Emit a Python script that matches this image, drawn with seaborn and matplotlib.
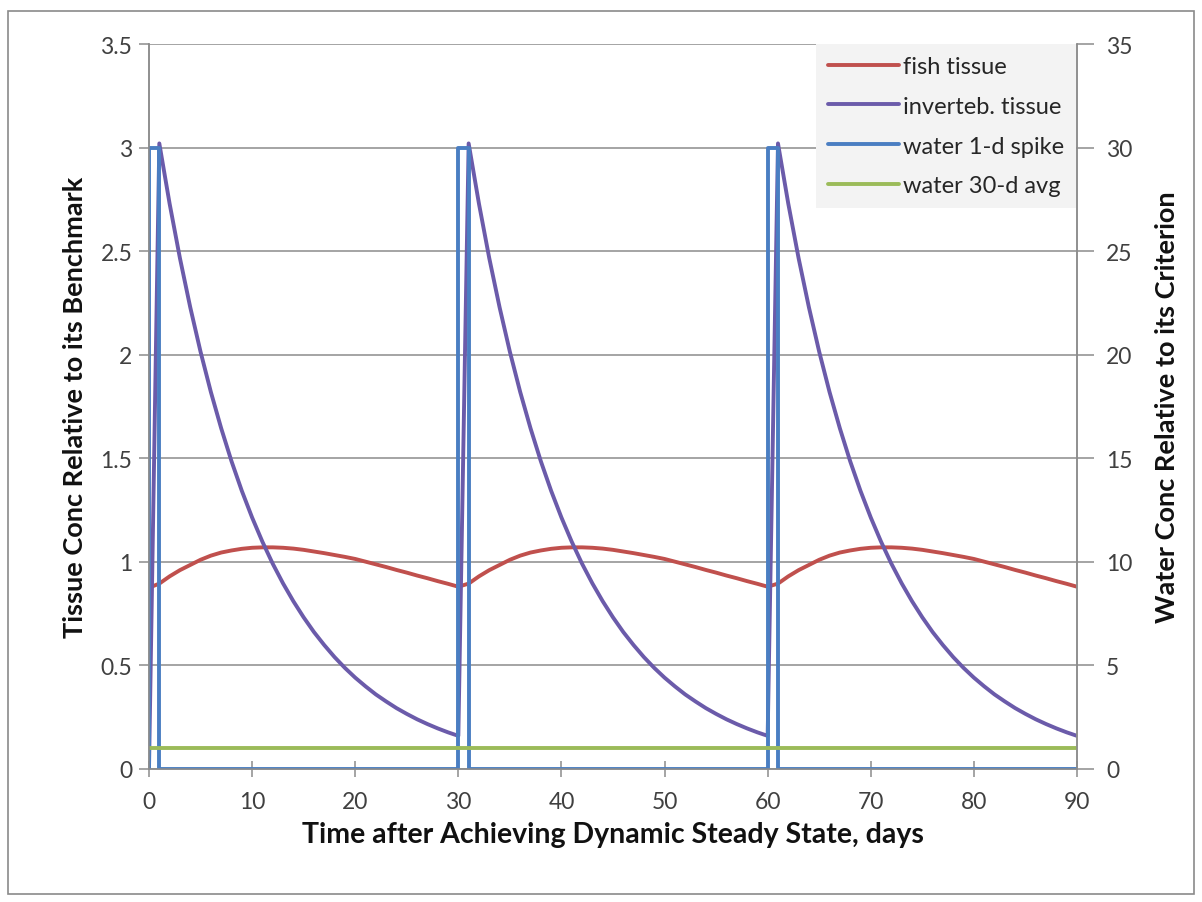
import matplotlib
matplotlib.use("Agg")
import matplotlib.pyplot as plt
from matplotlib.patches import Rectangle
import seaborn as sns
import pandas as pd

sns.set_theme(style="white")
plt.rcParams['font.family'] = ['Lato', 'DejaVu Sans']

days = list(range(0, 91))

fish_tissue = [
    0.875, 0.895, 0.930, 0.960, 0.985, 1.010, 1.030, 1.045, 1.055, 1.063,
    1.068, 1.070, 1.070, 1.068, 1.064, 1.058, 1.050, 1.042, 1.033, 1.024,
    1.014, 1.001, 0.988, 0.975, 0.961, 0.948, 0.934, 0.921, 0.907, 0.894,
    0.880, 0.895, 0.930, 0.960, 0.985, 1.010, 1.030, 1.045, 1.055, 1.063,
    1.068, 1.070, 1.070, 1.068, 1.064, 1.058, 1.050, 1.042, 1.033, 1.024,
    1.014, 1.001, 0.988, 0.975, 0.961, 0.948, 0.934, 0.921, 0.907, 0.894,
    0.880, 0.895, 0.930, 0.960, 0.985, 1.010, 1.030, 1.045, 1.055, 1.063,
    1.068, 1.070, 1.070, 1.068, 1.064, 1.058, 1.050, 1.042, 1.033, 1.024,
    1.014, 1.001, 0.988, 0.975, 0.961, 0.948, 0.934, 0.921, 0.907, 0.894,
    0.880,
]

invert_tissue = [
    0.000, 3.020, 2.729, 2.466, 2.229, 2.014, 1.820, 1.645, 1.486, 1.343,
    1.214, 1.097, 0.991, 0.896, 0.810, 0.732, 0.661, 0.598, 0.540, 0.488,
    0.441, 0.399, 0.360, 0.326, 0.294, 0.266, 0.240, 0.217, 0.196, 0.177,
    0.160, 3.020, 2.729, 2.466, 2.229, 2.014, 1.820, 1.645, 1.486, 1.343,
    1.214, 1.097, 0.991, 0.896, 0.810, 0.732, 0.661, 0.598, 0.540, 0.488,
    0.441, 0.399, 0.360, 0.326, 0.294, 0.266, 0.240, 0.217, 0.196, 0.177,
    0.160, 3.020, 2.729, 2.466, 2.229, 2.014, 1.820, 1.645, 1.486, 1.343,
    1.214, 1.097, 0.991, 0.896, 0.810, 0.732, 0.661, 0.598, 0.540, 0.488,
    0.441, 0.399, 0.360, 0.326, 0.294, 0.266, 0.240, 0.217, 0.196, 0.177,
    0.160,
]

spike_days = [0, 0, 1, 1, 30, 30, 31, 31, 60, 60, 61, 61, 90]
spike_values = [0, 30, 30, 0, 0, 30, 30, 0, 0, 30, 30, 0, 0]

avg_days = [0, 90]
avg_values = [1, 1]

labels = ["fish tissue", "inverteb. tissue", "water 1-d spike", "water 30-d avg"]
colors = ["#C0504D", "#6B5BAA", "#4A7EC2", "#9BBB59"]

fig = plt.figure(figsize=(12.02, 9.03), dpi=100)
fig.patch.set_facecolor("white")
fig.add_artist(Rectangle((8 / 1202, 1 - 895 / 903), 1186 / 1202, 883 / 903,
                         transform=fig.transFigure, fill=False,
                         edgecolor="#8a8a8a", linewidth=1.2))

ax = fig.add_axes([149 / 1202, 1 - 770 / 903, 928 / 1202, 725 / 903])
ax2 = ax.twinx()

df_t = pd.DataFrame({"day": days, "fish": fish_tissue, "inv": invert_tissue})
df_s = pd.DataFrame({"day": spike_days, "val": spike_values})
df_a = pd.DataFrame({"day": avg_days, "val": avg_values})

lw = 2.8
sns.lineplot(data=df_t, x="day", y="fish", ax=ax, color=colors[0], linewidth=lw,
             estimator=None, sort=False, label=labels[0], legend=False)
sns.lineplot(data=df_t, x="day", y="inv", ax=ax, color=colors[1], linewidth=lw,
             estimator=None, sort=False, label=labels[1], legend=False)
sns.lineplot(data=df_s, x="day", y="val", ax=ax2, color=colors[2], linewidth=lw,
             estimator=None, sort=False, label=labels[2], legend=False)
sns.lineplot(data=df_a, x="day", y="val", ax=ax2, color=colors[3], linewidth=lw,
             estimator=None, sort=False, label=labels[3], legend=False)

ax.set_xlim(0, 90)
ax.set_ylim(0, 3.5)
ax2.set_ylim(0, 35)
ax.set_xticks(range(0, 91, 10))
ax.set_yticks([0, 0.5, 1, 1.5, 2, 2.5, 3, 3.5])
ax.set_yticklabels(["0", "0.5", "1", "1.5", "2", "2.5", "3", "3.5"])
ax2.set_yticks(range(0, 36, 5))

ax.yaxis.grid(True, color="#8c8c8c", linewidth=1.1)
ax.xaxis.grid(False)
ax2.grid(False)
ax.set_axisbelow(True)

for a in (ax, ax2):
    a.spines["top"].set_visible(False)
    for s in ("left", "right", "bottom"):
        a.spines[s].set_color("#8c8c8c")
        a.spines[s].set_linewidth(1.1)
    a.set_facecolor("none")

tick_font = 16.5
ax.tick_params(axis="y", direction="out", length=7, width=1.1, color="#8c8c8c",
               labelsize=tick_font, labelcolor="#404040", pad=5, left=True)
ax.tick_params(axis="x", direction="inout", length=12, width=1.1, color="#8c8c8c",
               labelsize=tick_font, labelcolor="#404040", pad=10, bottom=True)
ax2.tick_params(axis="y", direction="out", length=12, width=1.1, color="#8c8c8c",
                labelsize=tick_font, labelcolor="#404040", pad=9, right=True)

ax.set_xlabel("Time after Achieving Dynamic Steady State, days", fontsize=20.5,
              fontweight="bold", color="#111111", labelpad=6)
ax.set_ylabel("Tissue Conc Relative to its Benchmark", fontsize=19.5,
              fontweight="bold", color="#111111", labelpad=10)
ax2.set_ylabel("Water Conc Relative to its Criterion", fontsize=19.5,
               fontweight="bold", color="#111111", labelpad=16)

handles = ax.get_lines()[:2] + ax2.get_lines()[:2]
leg = ax2.legend(handles, labels, loc="upper right", bbox_to_anchor=(0.9985, 1.0),
                 fontsize=17, frameon=True, handlelength=3.0, handletextpad=0.15,
                 labelspacing=0.8, borderpad=0.5, borderaxespad=0.0)
leg.get_frame().set_facecolor("#f3f3f3")
leg.get_frame().set_edgecolor("none")
leg.get_frame().set_alpha(1)
leg.get_frame().set_boxstyle("square", pad=0.0)

fig.savefig("out.png", dpi=100)
